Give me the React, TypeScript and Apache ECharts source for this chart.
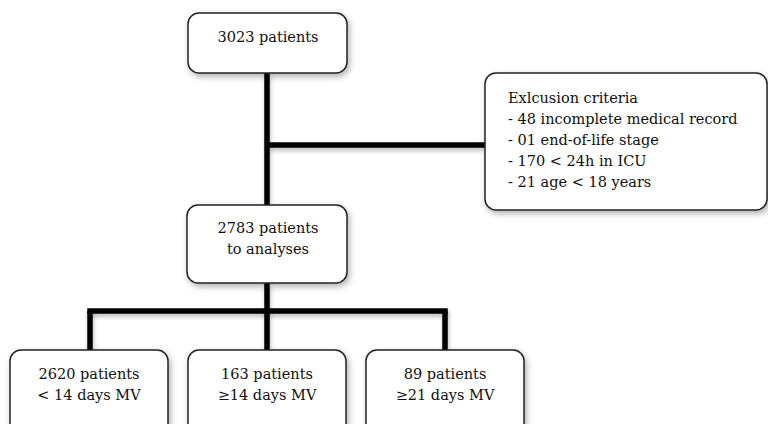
import React, { useEffect, useRef } from "react";
import * as echarts from "echarts";

// ---- content (from the reference) ----
const totalPatients = 3023;
const analysedPatients = 2783;
const exclusionTitle = "Exlcusion criteria";
const exclusionCounts = ["48", "01", "170", "21"];
const exclusionReasons = ["incomplete medical record", "end-of-life stage", "< 24h in ICU", "age < 18 years"];
const groupCounts = [2620, 163, 89];
const groupLabels = ["< 14 days MV", "\u226514 days MV", "\u226521 days MV"];

// ---- layout ----
const FONT = '14.5px "DejaVu Serif", "Liberation Serif", serif';
const TEXT_COLOR = "#111111";
const LINE_W = 5.5;
const topBox = { x: 188, y: 13, w: 159, h: 60 };
const midBox = { x: 187, y: 205, w: 160, h: 78 };
const exclBox = { x: 485, y: 73, w: 282, h: 137 };
const bottomBoxX = [10, 188, 366];
const bottomBoxY = 350;
const bottomBoxW = 158;
const bottomBoxH = 90;
const branchX = [90, 267, 445];
const trunkX = 267;
const exclY = 145;
const branchY = 311;

function box(b: { x: number; y: number; w: number; h: number }) {
  return {
    type: "rect",
    shape: { x: b.x, y: b.y, width: b.w, height: b.h, r: 11 },
    style: {
      fill: "#ffffff",
      stroke: "#222222",
      lineWidth: 1.5,
      shadowBlur: 6,
      shadowOffsetX: 2,
      shadowOffsetY: 3,
      shadowColor: "rgba(0,0,0,0.3)",
    },
    z: 10,
  };
}

// connector drawn as a thin filled rect (so the shadow filter has a real bounding box)
function line(x1: number, y1: number, x2: number, y2: number) {
  const h = LINE_W / 2;
  const x = Math.min(x1, x2) - (x1 === x2 ? h : 0);
  const y = Math.min(y1, y2) - (y1 === y2 ? h : 0);
  const width = x1 === x2 ? LINE_W : Math.abs(x2 - x1);
  const height = y1 === y2 ? LINE_W : Math.abs(y2 - y1);
  return {
    type: "rect",
    shape: { x, y, width, height },
    style: {
      fill: "#000000",
      shadowBlur: 4,
      shadowOffsetX: 1,
      shadowOffsetY: 3,
      shadowColor: "rgba(0,0,0,0.25)",
    },
    z: 5,
  };
}

function text(x: number, y: number, t: string, align: string = "center") {
  return {
    type: "text",
    x,
    y,
    style: {
      text: t,
      font: FONT,
      fill: TEXT_COLOR,
      align,
      verticalAlign: "middle",
      lineHeight: 21,
    },
    z: 20,
  };
}

export default function App() {
  const ref = useRef<HTMLDivElement>(null);
  useEffect(() => {
    if (!ref.current) return;
    const chart = echarts.init(ref.current, undefined, { renderer: "svg" });
    const elements: any[] = [];

    // connectors
    elements.push(line(trunkX, topBox.y + topBox.h, trunkX, midBox.y));
    elements.push(line(trunkX, exclY, exclBox.x, exclY));
    elements.push(line(trunkX, midBox.y + midBox.h, trunkX, branchY));
    elements.push(line(branchX[0] - LINE_W / 2, branchY, branchX[2] + LINE_W / 2, branchY));
    branchX.forEach((bx) => elements.push(line(bx, branchY, bx, bottomBoxY)));

    // boxes
    elements.push(box(topBox));
    elements.push(box(midBox));
    elements.push(box(exclBox));
    bottomBoxX.forEach((bx) => elements.push(box({ x: bx, y: bottomBoxY, w: bottomBoxW, h: bottomBoxH })));

    // texts
    elements.push(text(268, 37, `${totalPatients} patients`));
    elements.push(text(268, 238, `${analysedPatients} patients\nto analyses`));
    const exclLines = [exclusionTitle].concat(
      exclusionCounts.map((c, i) => `- ${c} ${exclusionReasons[i]}`)
    );
    exclLines.forEach((l, i) => elements.push(text(508, 98 + i * 21, l, "left")));
    groupCounts.forEach((c, i) =>
      elements.push(
        text(bottomBoxX[i] + bottomBoxW / 2, 384, `${c} patients\n${groupLabels[i]}`)
      )
    );

    chart.setOption({
      animation: false,
      backgroundColor: "#ffffff",
      graphic: { elements },
    });
    return () => chart.dispose();
  }, []);
  return (
    <div
      ref={ref}
      style={{ position: "fixed", left: 0, top: 0, width: 768, height: 424 }}
    />
  );
}
